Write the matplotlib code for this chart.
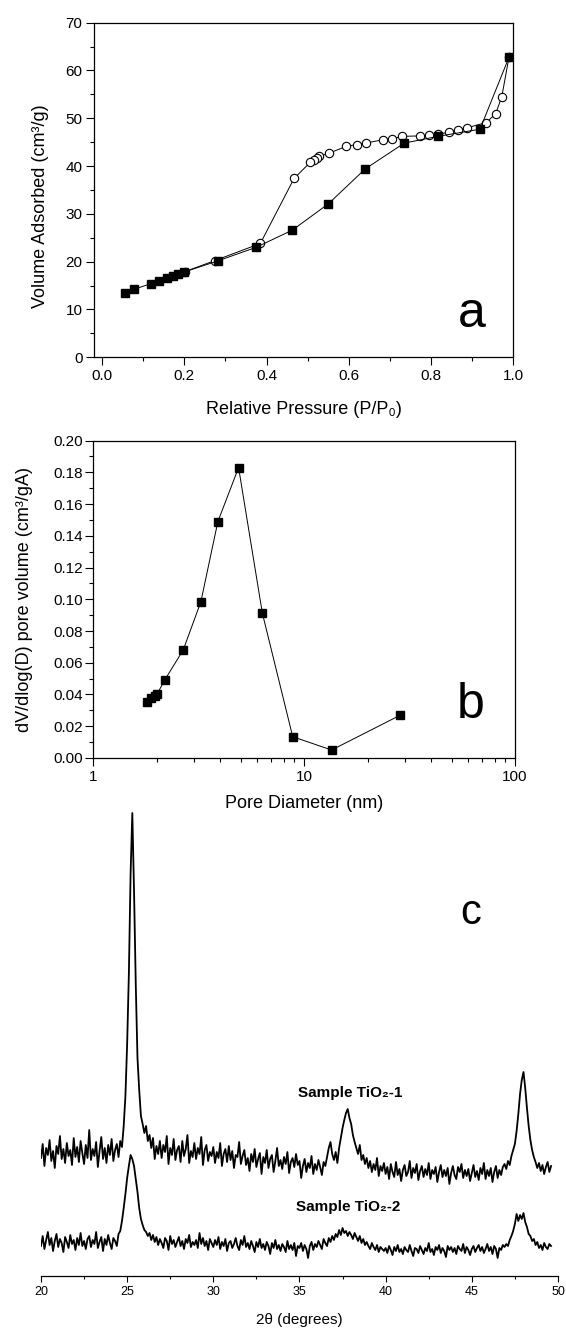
import matplotlib.pyplot as plt
import numpy as np
from matplotlib.ticker import MultipleLocator, FormatStrFormatter, NullFormatter

plt.rcParams['font.family'] = ['Liberation Sans', 'DejaVu Sans']

# (a) N2 adsorption / desorption isotherm
p_ads = [0.057, 0.078, 0.1185, 0.138, 0.157, 0.173, 0.186, 0.199, 0.283,
         0.375, 0.463, 0.5505, 0.640, 0.735, 0.8165, 0.919, 0.9895]
v_ads = [13.4, 14.2, 15.4, 16.0, 16.6, 17.0, 17.4, 17.8, 20.2,
         23.0, 26.6, 32.1, 39.4, 44.8, 46.2, 47.7, 62.75]
p_des = [0.9895, 0.972, 0.957, 0.934, 0.888, 0.865, 0.843, 0.8165, 0.7946,
         0.772, 0.729, 0.706, 0.684, 0.641, 0.619, 0.594, 0.552, 0.5285,
         0.522, 0.515, 0.5066, 0.467, 0.385, 0.274, 0.201]
v_des = [62.75, 54.5, 50.9, 49.1, 48.0, 47.5, 47.1, 46.6, 46.4,
         46.3, 46.2, 45.7, 45.5, 44.8, 44.5, 44.1, 42.7, 42.0,
         41.7, 41.3, 40.8, 37.4, 23.8, 20.2, 17.9]

# (b) pore size distribution
pore_d = [1.79, 1.88, 1.96, 2.01, 2.18, 2.67, 3.24, 3.90, 4.89, 6.34, 8.83, 13.5, 28.6]
pore_v = [0.0355, 0.0376, 0.039, 0.0403, 0.049, 0.068, 0.0985, 0.149, 0.183,
          0.0912, 0.0134, 0.005, 0.027]

# (c) XRD patterns, 20.0 - 49.6 deg in 0.1 deg steps (arbitrary intensity)
xrd_1 = [
    118, 132, 110, 128, 121, 136, 115, 125, 108, 130,
    122, 140, 117, 127, 113, 133, 120, 126, 111, 138,
    119, 129, 114, 135, 123, 112, 131, 118, 146, 116,
    127, 120, 134, 109, 125, 139, 117, 128, 113, 131,
    121, 137, 115, 126, 132, 119, 135, 129, 150, 180,
    232, 302, 402, 463, 385, 292, 218, 186, 160, 152,
    143, 150, 135, 141, 128, 138, 117, 130, 122, 135,
    118, 131, 124, 140, 112, 128, 121, 137, 116, 126,
    130, 114, 135, 120, 127, 141, 113, 125, 119, 133,
    117, 128, 122, 139, 111, 126, 131, 115, 124, 120,
    129, 113, 124, 118, 133, 110, 122, 127, 114, 130,
    116, 125, 108, 121, 119, 134, 112, 120, 126, 111,
    118, 105, 122, 114, 127, 109, 117, 123, 102, 119,
    113, 126, 108, 117, 121, 104, 115, 128, 110, 116,
    107, 119, 112, 124, 103, 114, 118, 109, 122, 111,
    115, 98, 110, 117, 104, 113, 108, 120, 102, 112,
    106, 116, 109, 101, 114, 110, 119, 128, 134, 122,
    116, 124, 113, 128, 138, 148, 156, 163, 167, 158,
    152, 141, 134, 128, 122, 131, 116, 121, 112, 118,
    108, 115, 104, 112, 106, 118, 100, 110, 105, 113,
    102, 109, 97, 112, 104, 99, 114, 101, 107, 95,
    106, 111, 100, 104, 115, 98, 108, 103, 112, 96,
    105, 110, 99, 107, 101, 113, 97, 106, 102, 109,
    94, 104, 111, 99, 106, 100, 108, 92, 103, 110,
    101, 97, 109, 104, 112, 98, 106, 100, 107, 95,
    103, 111, 99, 105, 96, 108, 102, 113, 97, 106,
    100, 108, 94, 104, 110, 98, 106, 101, 109, 112,
    107, 115, 111, 120, 126, 132, 145, 162, 182, 196,
    204, 188, 168, 150, 136, 126, 119, 114, 108, 113,
    105, 111, 102, 109, 114, 104, 110,
]
xrd_2 = [
    30, 40, 27, 36, 44, 31, 38, 25, 35, 42,
    29, 37, 33, 24, 39, 34, 28, 41, 32, 36,
    26, 38, 31, 43, 30, 35, 27, 37, 40, 29,
    36, 32, 44, 28, 34, 39, 25, 37, 31, 41,
    33, 27, 38, 35, 30, 42, 45, 55, 68, 82,
    98, 110, 121, 117, 110, 97, 84, 68, 57, 51,
    46, 44, 40, 43, 36, 41, 34, 39, 31, 37,
    33, 28, 38, 35, 26, 40, 32, 36, 29, 34,
    39, 30, 35, 27, 37, 33, 41, 29, 34, 31,
    36, 28, 43, 32, 38, 30, 35, 26, 37, 33,
    29, 36, 31, 39, 27, 34, 30, 37, 25, 33,
    35, 28, 32, 38, 30, 26, 36, 31, 40, 29,
    33, 27, 35, 30, 24, 34, 29, 37, 28, 32,
    26, 34, 30, 22, 33, 28, 36, 27, 31, 25,
    32, 29, 24, 35, 27, 31, 26, 33, 20, 30,
    28, 33, 25, 31, 27, 18, 30, 34, 26, 32,
    29, 35, 31, 27, 37, 33, 30, 38, 34, 40,
    36, 42, 39, 46, 41, 48, 43, 45, 40, 44,
    41, 37, 43, 39, 35, 40, 33, 37, 31, 34,
    30, 27, 33, 29, 26, 31, 24, 29, 27, 25,
    28, 23, 30, 26, 21, 29, 25, 31, 24, 27,
    22, 29, 26, 24, 31, 25, 20, 28, 27, 23,
    30, 26, 22, 28, 25, 33, 24, 27, 21, 29,
    26, 31, 23, 28, 25, 19, 30, 26, 29, 24,
    28, 22, 30, 27, 25, 32, 23, 29, 26, 21,
    27, 30, 24, 28, 31, 25, 29, 23, 27, 32,
    25, 29, 22, 30, 27, 18, 28, 26, 31, 29,
    32, 30, 36, 40, 45, 52, 62, 55, 61, 57,
    63, 54, 49, 42, 40, 35, 37, 31, 34, 28,
    31, 26, 33, 29, 27, 32, 30,
]
two_theta = np.linspace(20.0, 49.6, len(xrd_1))

fig = plt.figure(figsize=(5.66, 13.3), dpi=100)

# ---- panel c (drawn first so it sits under panel b's x label) ----
ax_c = fig.add_axes([0.0724, 0.0406, 0.9134, 0.3609])
ax_c.patch.set_visible(False)
ax_c.plot(two_theta, xrd_1, color='black', lw=1.3)
ax_c.plot(two_theta, xrd_2, color='black', lw=1.3)
ax_c.set_xlim(20, 50)
ax_c.set_ylim(0, 480)
for side in ('left', 'top', 'right'):
    ax_c.spines[side].set_visible(False)
ax_c.spines['bottom'].set_linewidth(0.9)
ax_c.set_yticks([])
ax_c.xaxis.set_major_locator(MultipleLocator(5))
ax_c.xaxis.set_minor_locator(MultipleLocator(2.5))
ax_c.tick_params(which='both', direction='out', labelsize=9, width=0.8, pad=3)
ax_c.tick_params(which='major', length=4.5)
ax_c.tick_params(which='minor', length=2.5)
ax_c.set_xlabel('2\u03b8 (degrees)', fontsize=11, va='center')
ax_c.xaxis.set_label_coords(0.499, -0.092)
ax_c.text(34.9, 183, 'Sample TiO\u2082-1', fontsize=11, fontweight='bold', ha='left', va='center')
ax_c.text(34.8, 69, 'Sample TiO\u2082-2', fontsize=11, fontweight='bold', ha='left', va='center')
ax_c.text(44.94, 352, 'c', fontsize=30, ha='center', va='baseline')

# ---- panel a ----
ax_a = fig.add_axes([0.1666, 0.7314, 0.7403, 0.2516])
ax_a.plot(p_des, v_des, '-o', color='black', lw=0.7, ms=6, mfc='white', mec='black', mew=0.8)
ax_a.plot(p_ads, v_ads, '-s', color='black', lw=0.7, ms=6)
ax_a.set_xlim(-0.0187, 1.0)
ax_a.set_ylim(0, 70)
ax_a.xaxis.set_major_locator(MultipleLocator(0.2))
ax_a.xaxis.set_minor_locator(MultipleLocator(0.1))
ax_a.xaxis.set_major_formatter(FormatStrFormatter('%.1f'))
ax_a.yaxis.set_major_locator(MultipleLocator(10))
ax_a.yaxis.set_minor_locator(MultipleLocator(5))
ax_a.set_xlabel('Relative Pressure (P/P\u2080)', fontsize=13, va='center')
ax_a.set_ylabel('Volume Adsorbed (cm\u00b3/g)', fontsize=13, va='center')
ax_a.xaxis.set_label_coords(0.5, -0.155)
ax_a.yaxis.set_label_coords(-0.128, 0.45)
ax_a.text(0.898, 6.34, 'a', fontsize=36, ha='center', va='baseline')

# ---- panel b ----
ax_b = fig.add_axes([0.1647, 0.4301, 0.7452, 0.2386])
ax_b.plot(pore_d, pore_v, '-s', color='black', lw=0.7, ms=6)
ax_b.set_xscale('log')
ax_b.set_xlim(1, 100)
ax_b.set_ylim(0, 0.20)
ax_b.set_xticks([1, 10, 100], labels=['1', '10', '100'])
ax_b.xaxis.set_minor_formatter(NullFormatter())
ax_b.yaxis.set_major_locator(MultipleLocator(0.02))
ax_b.yaxis.set_minor_locator(MultipleLocator(0.01))
ax_b.yaxis.set_major_formatter(FormatStrFormatter('%.2f'))
ax_b.set_xlabel('Pore Diameter (nm)', fontsize=13, va='center')
ax_b.set_ylabel('dV/dlog(D) pore volume (cm\u00b3/gA)', fontsize=13, va='center')
ax_b.xaxis.set_label_coords(0.5, -0.142)
ax_b.yaxis.set_label_coords(-0.162, 0.498)
ax_b.text(61.7, 0.025, 'b', fontsize=36, ha='center', va='baseline')

for ax in (ax_a, ax_b):
    for s in ax.spines.values():
        s.set_linewidth(0.9)
    ax.tick_params(which='both', direction='out', top=False, right=False,
                   labelsize=11, width=0.8, pad=3)
    ax.tick_params(which='major', length=5.5)
    ax.tick_params(which='minor', length=3)
ax_b.tick_params(axis='y', pad=1.5)

fig.savefig('out.png', dpi=100)
